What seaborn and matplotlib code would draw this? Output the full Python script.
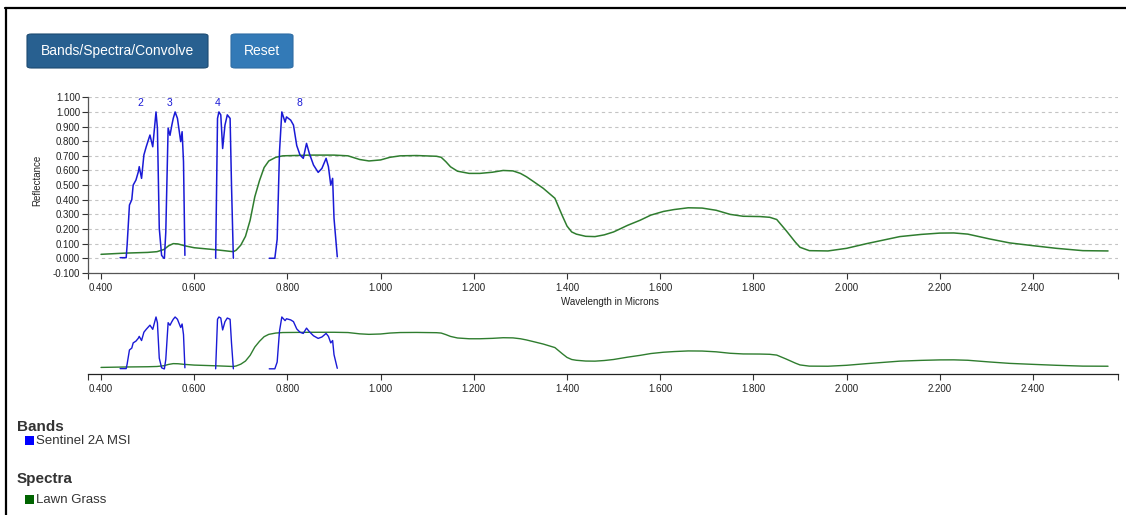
import matplotlib
matplotlib.use("Agg")
import matplotlib.pyplot as plt
import seaborn as sns
import numpy as np
from matplotlib.patches import FancyBboxPatch, Rectangle
from matplotlib.lines import Line2D

# Lawn grass reflectance spectrum
grass_wl = [0.40, 0.45, 0.50, 0.52, 0.535, 0.545, 0.555, 0.565, 0.58, 0.60, 0.65, 0.675,
            0.684, 0.69, 0.70, 0.71, 0.72, 0.73, 0.74, 0.75, 0.76, 0.775, 0.79, 0.85,
            0.90, 0.93, 0.955, 0.975, 1.00, 1.02, 1.042, 1.077, 1.12, 1.13, 1.14, 1.15,
            1.165, 1.19, 1.213, 1.24, 1.263, 1.284, 1.30, 1.313, 1.33, 1.349, 1.374, 1.39,
            1.40, 1.41, 1.42, 1.44, 1.46, 1.48, 1.50, 1.53, 1.557, 1.58, 1.607, 1.63, 1.66,
            1.69, 1.72, 1.75, 1.778, 1.814, 1.835, 1.85, 1.87, 1.89, 1.90, 1.92, 1.96,
            2.00, 2.043, 2.08, 2.114, 2.16, 2.20, 2.23, 2.26, 2.307, 2.35, 2.40, 2.45,
            2.507, 2.561]
grass_refl = [0.027, 0.035, 0.040, 0.045, 0.060, 0.085, 0.100, 0.098, 0.085, 0.072, 0.057,
              0.048, 0.045, 0.055, 0.09, 0.15, 0.26, 0.42, 0.53, 0.62, 0.665, 0.69, 0.70,
              0.705, 0.705, 0.700, 0.675, 0.665, 0.672, 0.690, 0.700, 0.702, 0.697, 0.69,
              0.66, 0.625, 0.595, 0.580, 0.580, 0.588, 0.600, 0.597, 0.580, 0.557, 0.52,
              0.478, 0.410, 0.29, 0.22, 0.18, 0.165, 0.150, 0.148, 0.160, 0.180, 0.225,
              0.260, 0.295, 0.320, 0.333, 0.345, 0.343, 0.328, 0.300, 0.287, 0.285, 0.280,
              0.265, 0.19, 0.11, 0.075, 0.052, 0.050, 0.068, 0.100, 0.125, 0.148, 0.163,
              0.172, 0.173, 0.165, 0.132, 0.105, 0.086, 0.068, 0.052, 0.050]

# Sentinel 2A MSI spectral response, bands 2, 3, 4, 8
b2_wl = [0.441, 0.454, 0.456, 0.461, 0.466, 0.469, 0.475, 0.480, 0.482, 0.487, 0.492,
         0.497, 0.505, 0.511, 0.514, 0.518, 0.521, 0.525, 0.530, 0.535]
b2_resp = [0.004, 0.004, 0.09, 0.364, 0.40, 0.50, 0.535, 0.59, 0.626, 0.546, 0.706,
           0.762, 0.842, 0.762, 0.865, 1.0, 0.89, 0.205, 0.02, 0.0]
b3_wl = [0.536, 0.539, 0.544, 0.548, 0.552, 0.555, 0.559, 0.564, 0.568, 0.571, 0.574,
         0.577, 0.580]
b3_resp = [0.0, 0.18, 0.89, 0.84, 0.91, 0.956, 1.0, 0.956, 0.865, 0.797, 0.865, 0.66, 0.02]
b4_wl = [0.646, 0.650, 0.653, 0.657, 0.661, 0.666, 0.671, 0.677, 0.680, 0.684]
b4_resp = [0.0, 0.956, 1.0, 0.98, 0.75, 0.91, 0.98, 0.956, 0.50, 0.0]
b8_wl = [0.761, 0.773, 0.778, 0.783, 0.788, 0.795, 0.798, 0.807, 0.813, 0.820, 0.827,
         0.834, 0.841, 0.847, 0.856, 0.866, 0.874, 0.883, 0.888, 0.893, 0.897, 0.900, 0.907]
b8_resp = [0.0, 0.0, 0.13, 0.728, 1.0, 0.93, 0.966, 0.944, 0.91, 0.77, 0.706, 0.683,
           0.785, 0.717, 0.637, 0.587, 0.614, 0.683, 0.626, 0.50, 0.546, 0.273, 0.01]

bands = [(b2_wl, b2_resp), (b3_wl, b3_resp), (b4_wl, b4_resp), (b8_wl, b8_resp)]
band_names = ["2", "3", "4", "8"]
band_label_x = [0.484, 0.546, 0.651, 0.825]

x_ticks = [0.4, 0.6, 0.8, 1.0, 1.2, 1.4, 1.6, 1.8, 2.0, 2.2, 2.4]
y_ticks = [-0.1, 0.0, 0.1, 0.2, 0.3, 0.4, 0.5, 0.6, 0.7, 0.8, 0.9, 1.0, 1.1]

sns.set_style("white")
plt.rcParams['font.family'] = ['Liberation Sans', 'DejaVu Sans']
plt.rcParams['lines.solid_joinstyle'] = 'round'

BLUE = '#1a1ad6'
GREEN = '#2f7d2f'
W, H = 1126, 515
fig = plt.figure(figsize=(W / 100, H / 100), dpi=100)
XLIM = (0.3727, 2.5824)


def fx(px):
    return px / W


def fy(py):
    return 1 - py / H


def style_xaxis(ax):
    ax.set_xlim(*XLIM)
    ax.set_xticks(x_ticks)
    ax.set_xticklabels(["%.3f" % v for v in x_ticks])
    ax.set_xticks(list(XLIM), minor=True)
    ax.tick_params(axis='x', which='both', direction='out', length=4.5, width=0.8,
                   color='#333333', labelsize=7, labelcolor='#222222', pad=2.5,
                   bottom=True)
    ax.spines['bottom'].set_color('#555555')
    ax.spines['bottom'].set_linewidth(0.9)
    for s in ['top', 'right']:
        ax.spines[s].set_visible(False)


# main chart
ax = fig.add_axes([fx(88.3), fy(272.9), fx(1118 - 88.3), (272.9 - 97.3) / H])
sns.lineplot(x=grass_wl, y=grass_refl, ax=ax, color=GREEN, lw=1.1, estimator=None)
for (wl, r) in bands:
    sns.lineplot(x=wl, y=r, ax=ax, color=BLUE, lw=1.1, estimator=None)
for name, lx in zip(band_names, band_label_x):
    ax.text(lx, 1.06, name, color=BLUE, fontsize=7.5, ha='center', va='center')
ax.set_ylim(-0.1, 1.1)
ax.set_yticks(y_ticks)
ax.set_yticklabels(["%.3f" % v for v in y_ticks])
ax.tick_params(axis='y', direction='out', length=4.5, width=0.8, color='#333333',
               labelsize=7, labelcolor='#222222', pad=1.5, left=True)
ax.spines['left'].set_color('#555555')
ax.spines['left'].set_linewidth(0.9)
ax.yaxis.grid(True, linestyle=(0, (3, 3)), color='#c4c4c4', lw=0.8)
ax.set_axisbelow(True)
style_xaxis(ax)
ax.set_xlabel("")
ax.set_ylabel("")
fig.text(fx(37), fy(180), "Reflectance", rotation=90, fontsize=7, color='#222222',
         ha='center', va='center')
fig.text(fx(610), fy(302), "Wavelength in Microns", fontsize=7, color='#222222',
         ha='center', va='center')

# overview chart
ax2 = fig.add_axes([fx(88.3), fy(374), fx(1118 - 88.3), (374 - 314.4) / H])
sns.lineplot(x=grass_wl, y=grass_refl, ax=ax2, color=GREEN, lw=1.0, estimator=None)
for (wl, r) in bands:
    sns.lineplot(x=wl, y=r, ax=ax2, color=BLUE, lw=1.0, estimator=None)
ax2.set_ylim(-0.1, 1.05)
ax2.set_yticks([])
ax2.spines['left'].set_visible(False)
style_xaxis(ax2)
ax2.spines['bottom'].set_color('#222222')

# buttons
fig.add_artist(FancyBboxPatch((fx(27), fy(68)), fx(181), (68 - 34) / H,
                              boxstyle="round,pad=0,rounding_size=0.004",
                              transform=fig.transFigure, fc='#286090', ec='#1d4a70',
                              lw=0.8))
fig.text(fx(117.5), fy(51), "Bands/Spectra/Convolve", color='white', fontsize=10,
         ha='center', va='center')
fig.add_artist(FancyBboxPatch((fx(231), fy(68)), fx(62), (68 - 34) / H,
                              boxstyle="round,pad=0,rounding_size=0.004",
                              transform=fig.transFigure, fc='#337ab7', ec='#2e6da4',
                              lw=0.8))
fig.text(fx(262), fy(51), "Reset", color='white', fontsize=10, ha='center', va='center')

# legend
fig.text(fx(17), fy(427), "Bands", fontsize=11, fontweight='bold', color='#333333',
         ha='left', va='center')
fig.add_artist(Rectangle((fx(25), fy(445)), fx(9), 9 / H, transform=fig.transFigure,
                         fc='#0000ff', ec='none'))
fig.text(fx(36), fy(441), "Sentinel 2A MSI", fontsize=9.5, color='#333333',
         ha='left', va='center')
fig.text(fx(17), fy(479), "Spectra", fontsize=11, fontweight='bold', color='#333333',
         ha='left', va='center')
fig.add_artist(Rectangle((fx(25), fy(504)), fx(9), 9 / H, transform=fig.transFigure,
                         fc='#006400', ec='none'))
fig.text(fx(36), fy(500), "Lawn Grass", fontsize=9.5, color='#333333',
         ha='left', va='center')

# page frame
fig.add_artist(Line2D([fx(5), 1], [fy(8), fy(8)], transform=fig.transFigure,
                      color='black', lw=1.6))
fig.add_artist(Line2D([fx(6), fx(6)], [0, fy(8)], transform=fig.transFigure,
                      color='black', lw=1.6))

fig.savefig("out.png", dpi=100)
